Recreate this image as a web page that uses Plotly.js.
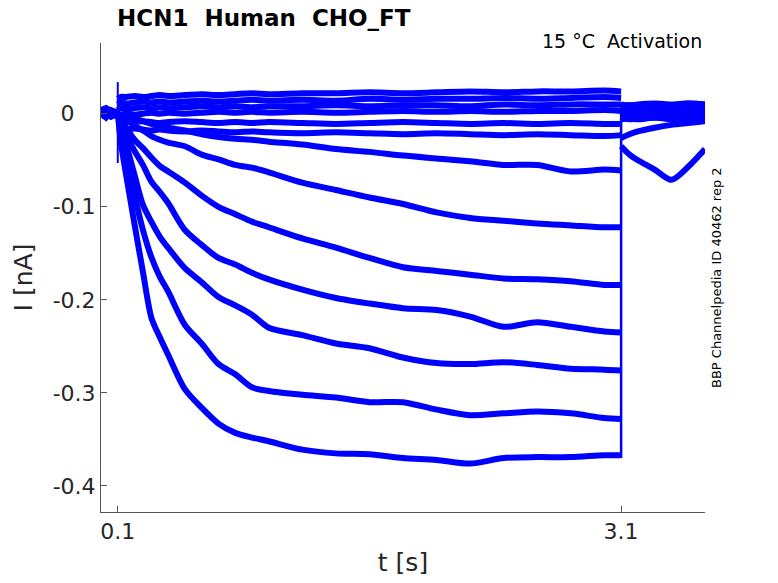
<!DOCTYPE html>
<html>
<head>
<meta charset="utf-8">
<script src="https://cdn.plot.ly/plotly-3.0.1.min.js"></script>
<style>
  html, body { margin: 0; padding: 0; background: #fff; }
  #plot { width: 778px; height: 583px; }
</style>
</head>
<body>
<div id="plot"></div>
<script>
// time points (s): holding, activation step, tail
const tPre = [0, 0.03, 0.06, 0.1];
const tStep = [0.1, 0.12, 0.15, 0.2, 0.25, 0.3, 0.35, 0.4, 0.5, 0.6, 0.7, 0.8, 0.9, 1.0,
  1.2, 1.4, 1.6, 1.8, 2.0, 2.2, 2.4, 2.6, 2.8, 3.0, 3.1];
const tTail = [3.1, 3.15, 3.2, 3.3, 3.4, 3.5, 3.6];

// current (nA) per sweep: [holding | step | tail]
const sweepA = [0.002, -0.003, 0.003, 0,
  0, -0.033, -0.066, -0.119, -0.170, -0.219, -0.240, -0.259, -0.296, -0.316, -0.333, -0.343, -0.348, -0.352,
  -0.361, -0.365, -0.366, -0.370, -0.372, -0.376, -0.370, -0.369, -0.369, -0.367, -0.367,
  -0.035, -0.044, -0.050, -0.060, -0.071, -0.057, -0.038];
const sweepB = [-0.002, 0.003, -0.001, 0,
  0, -0.017, -0.039, -0.087, -0.125, -0.154, -0.175, -0.191, -0.227, -0.247, -0.269, -0.280, -0.294, -0.298,
  -0.302, -0.305, -0.310, -0.310, -0.318, -0.324, -0.322, -0.320, -0.322, -0.327, -0.328,
  -0.026, -0.022, -0.019, -0.015, -0.012, -0.010, -0.008];
const sweepC = [0.003, 0.0, -0.003, 0,
  0, -0.015, -0.033, -0.066, -0.098, -0.116, -0.132, -0.144, -0.166, -0.181, -0.197, -0.206, -0.216, -0.230,
  -0.238, -0.247, -0.252, -0.262, -0.268, -0.269, -0.267, -0.270, -0.274, -0.275, -0.276,
  -0.006, -0.004, -0.005, -0.002, -0.003, 0.000, -0.001];
const sweepD = [-0.003, 0.002, 0.001, 0,
  0, -0.011, -0.023, -0.040, -0.055, -0.073, -0.084, -0.096, -0.125, -0.141, -0.155, -0.162, -0.171, -0.178,
  -0.189, -0.198, -0.204, -0.209, -0.211, -0.218, -0.229, -0.224, -0.229, -0.234, -0.235,
  0.004, 0.006, 0.005, 0.007, 0.006, 0.008, 0.007];
const sweepE = [0.001, -0.002, 0.002, 0,
  0, -0.006, -0.015, -0.028, -0.037, -0.047, -0.056, -0.062, -0.074, -0.088, -0.100, -0.108, -0.116, -0.122,
  -0.134, -0.144, -0.155, -0.165, -0.169, -0.173, -0.177, -0.178, -0.180, -0.184, -0.184,
  0.000, 0.002, -0.001, 0.001, 0.003, 0.002, 0.004];
const sweepF = [0.0, 0.003, -0.002, 0,
  0, -0.003, -0.006, -0.013, -0.018, -0.024, -0.028, -0.031, -0.035, -0.044, -0.049, -0.055, -0.058, -0.063,
  -0.074, -0.082, -0.090, -0.097, -0.106, -0.112, -0.115, -0.118, -0.120, -0.122, -0.122,
  0.008, 0.009, 0.007, 0.010, 0.009, 0.011, 0.010];
const sweepG = [-0.001, 0.001, 0.004, 0,
  0, -0.002, -0.003, -0.005, -0.008, -0.011, -0.013, -0.015, -0.018, -0.022, -0.025, -0.027, -0.028, -0.030,
  -0.033, -0.038, -0.041, -0.045, -0.048, -0.051, -0.055, -0.055, -0.062, -0.060, -0.061,
  -0.004, -0.003, -0.005, -0.004, -0.006, -0.004, -0.003];
const sweepH1 = [0.004, 0.006, 0.003, 0.002,
  0.016, 0.018, 0.018, 0.019, 0.018, 0.019, 0.020, 0.019, 0.020, 0.021, 0.020, 0.021, 0.022, 0.021,
  0.022, 0.022, 0.023, 0.022, 0.023, 0.024, 0.023, 0.024, 0.024, 0.025, 0.024,
  0.010, 0.009, 0.010, 0.011, 0.010, 0.011, 0.010];
const sweepH2 = [-0.002, 0.001, -0.003, 0.000,
  0.010, 0.012, 0.011, 0.012, 0.013, 0.012, 0.013, 0.012, 0.013, 0.014, 0.013, 0.014, 0.015, 0.014,
  0.015, 0.014, 0.016, 0.015, 0.016, 0.016, 0.017, 0.016, 0.017, 0.018, 0.017,
  0.006, 0.005, 0.006, 0.005, 0.006, 0.007, 0.006];
const sweepH3 = [0.001, -0.004, 0.002, 0.0,
  0.004, 0.006, 0.005, 0.006, 0.007, 0.006, 0.007, 0.006, 0.007, 0.008, 0.007, 0.008, 0.007, 0.008,
  0.008, 0.009, 0.008, 0.009, 0.009, 0.008, 0.010, 0.009, 0.010, 0.010, 0.010,
  0.002, 0.001, 0.003, 0.002, 0.001, 0.002, 0.003];
const sweepH4 = [-0.004, 0.002, -0.001, 0.0,
  -0.002, -0.001, 0.000, -0.001, 0.000, 0.001, 0.000, 0.001, 0.000, 0.001, 0.002, 0.001, 0.002, 0.001,
  0.002, 0.001, 0.002, 0.003, 0.002, 0.003, 0.002, 0.003, 0.003, 0.004, 0.003,
  -0.002, -0.003, -0.002, -0.001, -0.002, -0.001, 0.000];
const sweepH5 = [0.002, -0.001, 0.003, 0.0,
  -0.008, -0.009, -0.008, -0.009, -0.008, -0.009, -0.010, -0.009, -0.008, -0.009, -0.010, -0.009, -0.010, -0.009,
  -0.010, -0.011, -0.010, -0.009, -0.010, -0.011, -0.010, -0.011, -0.010, -0.011, -0.011,
  -0.006, -0.005, -0.006, -0.004, -0.005, -0.004, -0.003];
const sweepH6 = [-0.001, 0.003, -0.003, 0.0,
  -0.014, -0.016, -0.017, -0.016, -0.017, -0.018, -0.017, -0.018, -0.019, -0.018, -0.019, -0.020, -0.019, -0.020,
  -0.021, -0.020, -0.021, -0.022, -0.021, -0.022, -0.023, -0.022, -0.023, -0.024, -0.023,
  -0.004, -0.006, -0.005, -0.004, -0.003, -0.005, -0.004];

// capacitive transients at step onset and step end
const tSpike = [0.1, 0.1];
const iSpike = [0.034, -0.053];
const tOff = [3.1, 3.1];
const iOff = [-0.370, 0.012];

const xTicks = [0.1, 3.1];
const xTickText = ['0.1', '3.1'];
const yTicks = [0, -0.1, -0.2, -0.3, -0.4];
const yTickText = ['0\u00a0\u00a0\u00a0', '-0.1', '-0.2', '-0.3', '-0.4'];

const sweeps = [sweepH1, sweepH2, sweepH3, sweepH4, sweepH5, sweepH6,
  sweepG, sweepF, sweepE, sweepD, sweepC, sweepB, sweepA];
const nPre = tPre.length;
const nStep = tStep.length;

const blue = 'rgb(0,0,255)';
const traces = [];
sweeps.forEach(s => {
  // holding level
  traces.push({
    type: 'scatter', mode: 'lines',
    x: tPre, y: s.slice(0, nPre),
    line: { color: blue, width: 6 }, hoverinfo: 'skip'
  });
  // activation step
  traces.push({
    type: 'scatter', mode: 'lines',
    x: tStep, y: s.slice(nPre, nPre + nStep),
    line: { color: blue, width: 6, shape: 'spline', smoothing: 0.8 }, hoverinfo: 'skip'
  });
  // tail
  traces.push({
    type: 'scatter', mode: 'lines',
    x: tTail, y: s.slice(nPre + nStep),
    line: { color: blue, width: 6, shape: 'spline', smoothing: 0.8 }, hoverinfo: 'skip'
  });
});
traces.push({
  type: 'scatter', mode: 'lines', x: tSpike, y: iSpike,
  line: { color: blue, width: 2 }, hoverinfo: 'skip'
});
traces.push({
  type: 'scatter', mode: 'lines', x: tOff, y: iOff,
  line: { color: blue, width: 2.5 }, hoverinfo: 'skip'
});

const font = 'DejaVu Sans, sans-serif';
const axisCol = '#555555';
const textCol = '#262626';

const layout = {
  width: 778,
  height: 583,
  margin: { l: 101, r: 73, t: 43, b: 71 },
  paper_bgcolor: '#ffffff',
  plot_bgcolor: '#ffffff',
  showlegend: false,
  font: { family: font, color: textCol },
  xaxis: {
    range: [0, 3.6],
    tickvals: xTicks,
    ticktext: xTickText,
    ticks: 'inside',
    ticklen: 6,
    tickcolor: axisCol,
    showline: true,
    linecolor: axisCol,
    linewidth: 1,
    showgrid: false,
    zeroline: false,
    tickfont: { size: 22, color: textCol },
    title: { text: 't [s]', font: { size: 25, color: textCol }, standoff: 10 }
  },
  yaxis: {
    range: [-0.428, 0.076],
    tickvals: yTicks,
    ticktext: yTickText,
    ticks: 'inside',
    ticklen: 6,
    tickcolor: axisCol,
    showline: true,
    linecolor: axisCol,
    linewidth: 1,
    showgrid: false,
    zeroline: false,
    tickfont: { size: 22, color: textCol },
    title: { text: 'I [nA]', font: { size: 25, color: textCol }, standoff: 12 }
  },
  annotations: [
    {
      xref: 'paper', yref: 'paper', x: 0.0232, y: 1.053,
      xanchor: 'left', yanchor: 'middle', showarrow: false,
      text: '<b>HCN1 \u00a0Human \u00a0CHO_FT</b>',
      font: { size: 23, color: '#000000', family: font }
    },
    {
      xref: 'paper', yref: 'paper', x: 0.998, y: 1.004,
      xanchor: 'right', yanchor: 'middle', showarrow: false,
      text: '15 °C \u00a0Activation',
      font: { size: 19, color: '#000000', family: font }
    },
    {
      xref: 'paper', yref: 'paper', x: 1.0199, y: 0.499,
      xanchor: 'center', yanchor: 'middle', showarrow: false,
      textangle: -90,
      text: 'BBP Channelpedia ID 40462 rep 2',
      font: { size: 13, color: '#000000', family: font }
    }
  ]
};

Plotly.newPlot('plot', traces, layout, { displayModeBar: false, staticPlot: true });
</script>
</body>
</html>
